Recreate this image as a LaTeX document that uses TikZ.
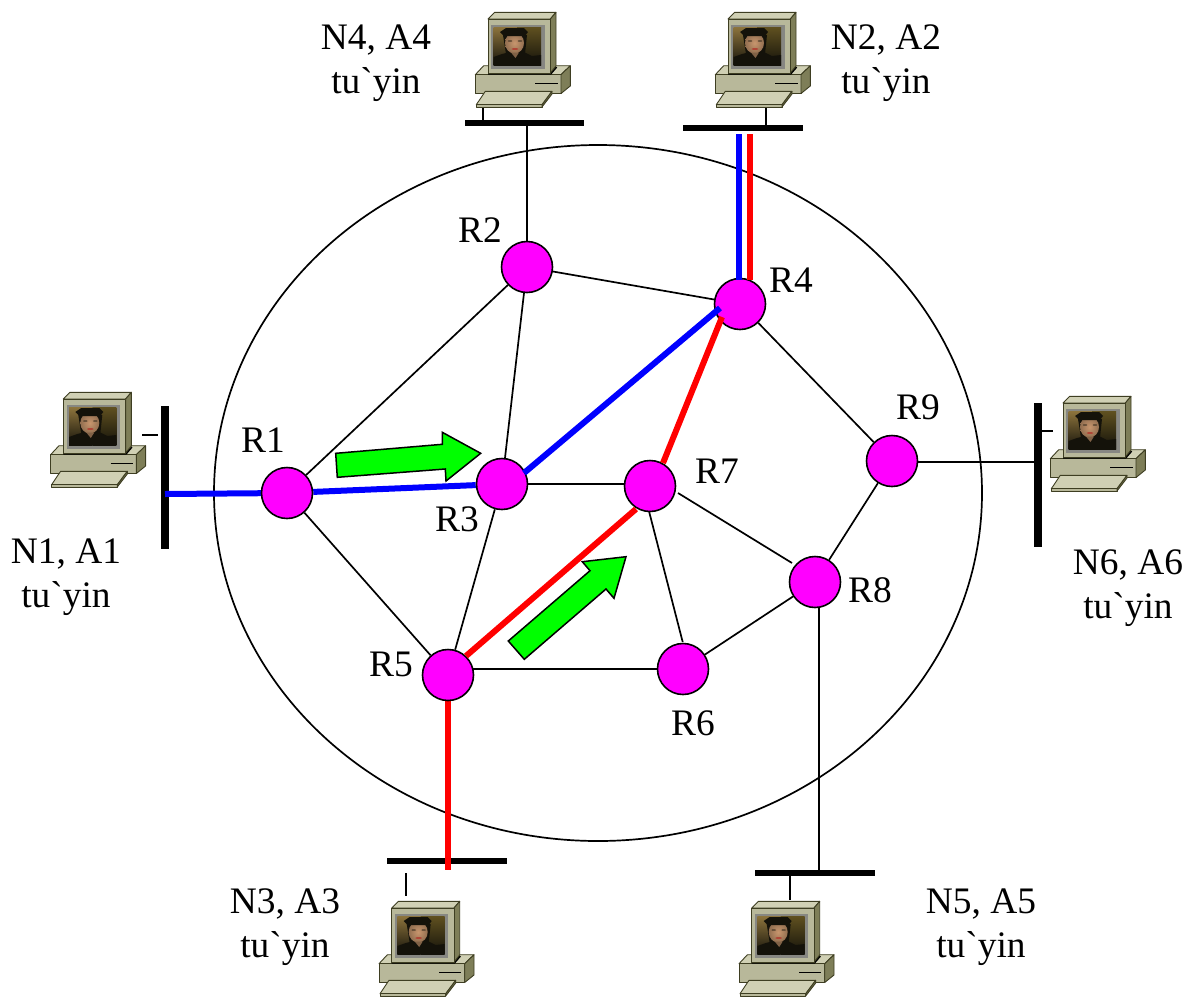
\documentclass[tikz,border=0pt]{standalone}
\usepackage{fontspec}
\usetikzlibrary{shapes.geometric,backgrounds}
\newfontfamily\plainserif{Liberation Serif}
\definecolor{linkblue}{RGB}{0,0,255}
\definecolor{linkred}{RGB}{255,0,0}
\definecolor{router}{RGB}{255,0,255}
\definecolor{arrowgreen}{RGB}{0,255,0}
\definecolor{pcedge}{RGB}{62,62,34}
\definecolor{pcfront}{RGB}{184,184,154}
\definecolor{pctop}{RGB}{208,208,180}
\definecolor{pcside}{RGB}{126,126,88}
\definecolor{pcbezel}{RGB}{135,135,130}
\definecolor{phototan}{RGB}{140,115,60}
\definecolor{photoolive}{RGB}{95,80,32}
\definecolor{photoskin}{RGB}{200,150,110}
\definecolor{photolip}{RGB}{175,70,55}
\definecolor{photodark}{RGB}{20,18,10}
\tikzset{
  x=1pt,y=-1pt,
  routernode/.style={circle,draw=black,line width=1.6pt,fill=router,minimum size=51pt,inner sep=0pt},
  thinlink/.style={draw=black,line width=1.7pt},
  bluelink/.style={draw=linkblue,line width=6pt},
  redlink/.style={draw=linkred,line width=6pt},
  busbar/.style={draw=black,line width=6pt},
  vbusbar/.style={draw=black,line width=8pt},
  greenarrow/.style={draw=black,line width=1.5pt,fill=arrowgreen,line join=miter},
  txt/.style={font=\plainserif\fontsize{37.4}{43.5}\selectfont,inner sep=0pt,align=center,text=black},
  pcpart/.style={draw=pcedge,line width=0.9pt,line join=round},
  pics/computer/.style={code={
    \filldraw[pcpart,fill=pctop] (-4.3,46.7)--(82.3,46.7)--(73,55.7)--(-12.7,55.7)--cycle;
    \filldraw[pcpart,fill=pcfront] (-12.7,55.7) rectangle (73,74.5);
    \filldraw[pcpart,fill=pcside] (73,55.7)--(82.3,46.7)--(82.3,67)--(73,74.5)--cycle;
    \draw[black,line width=1.2pt] (47.3,64.7)--(69.7,64.7);
    \filldraw[pcpart,fill=pctop] (-11.7,85.7)--(-2.7,72.3)--(64,72.3)--(54,85.7)--cycle;
    \filldraw[pcpart,fill=pcfront] (-11.7,85.7)--(54,85.7)--(54,88)--(-11.7,88)--cycle;
    \filldraw[pcpart,fill=pcside] (54,85.7)--(64,72.3)--(64,75)--(54,88)--cycle;
    \draw[black,line width=1.8pt] (0,54.8)--(62.6,54.8)--(68.5,48);
    \filldraw[pcpart,fill=pctop] (0,0)--(6.7,-6.7)--(68,-6.7)--(62.3,0)--cycle;
    \filldraw[pcpart,fill=pcside] (62.3,0)--(68,-6.7)--(68,47)--(62.3,54)--cycle;
    \filldraw[pcpart,fill=pcfront] (0,0) rectangle (62.3,54);
    \fill[pcbezel] (3.3,5.7) rectangle (56.7,49.7);
    \begin{scope}
      \clip (5.7,8.3) rectangle (53,46.3);
      \shade[top color=phototan,bottom color=photodark] (5.7,8.3) rectangle (29,46.3);
      \shade[top color=photoolive,bottom color=photodark] (29,8.3) rectangle (53,46.3);
      \fill[photodark] (5.7,38)--(14,35)--(22,33)--(36,33)--(44,37)--(53,36)--(53,46.3)--(5.7,46.3)--cycle;
      \fill[photodark] (18,35)--(15,16)--(39,16)--(37,35)--cycle;
      \shade[inner color=photoskin,outer color=photoskin!70!photodark] (26.5,24) ellipse (9.5 and 10.5);
      \fill[photodark] (12,13)--(18,9)--(36,9)--(40,13)--(37,17)--(16,17)--cycle;
      \fill[photolip] (27,30) ellipse (3.4 and 1);
      \fill[photodark!70!photoskin] (22,22) ellipse (2.3 and 0.7);
      \fill[photodark!70!photoskin] (32,22) ellipse (2.3 and 0.7);
      \fill[photoskin!60!photodark] (23,33.5)--(31,33.5)--(27.5,39)--cycle;
    \end{scope}
  }}
}
\begin{document}
\begin{tikzpicture}
\useasboundingbox (0,0) rectangle (1195,997);
% routers
\node[routernode] (R1) at (287,493) {};
\node[routernode] (R2) at (527,267) {};
\node[routernode] (R3) at (502,484) {};
\node[routernode] (R4) at (740,304) {};
\node[routernode] (R5) at (448,675) {};
\node[routernode] (R6) at (683,669) {};
\node[routernode] (R7) at (650,486) {};
\node[routernode] (R8) at (815,582) {};
\node[routernode] (R9) at (892,461) {};
% free ends
\coordinate (barN4a) at (465,123); \coordinate (barN4b) at (584,123); \coordinate (dropN4) at (527,123);
\coordinate (barN2a) at (683,128); \coordinate (barN2b) at (803,128);
\coordinate (barN1a) at (165,406); \coordinate (barN1b) at (165,549); \coordinate (dropN1) at (165,494);
\coordinate (barN6a) at (1038,403); \coordinate (barN6b) at (1038,547); \coordinate (dropN6) at (1038,462);
\coordinate (barN3a) at (387,861); \coordinate (barN3b) at (507,861); \coordinate (dropN3) at (448,870);
\coordinate (barN5a) at (755,873); \coordinate (barN5b) at (875,873); \coordinate (dropN5) at (819,873);
\coordinate (blueN2) at (739,134); \coordinate (redN2) at (749.7,134);
\coordinate (blueR4) at (739,280); \coordinate (redR4) at (749.7,280);
\coordinate (topR8) at (819,582);
% off-centre link ends on the routers
\coordinate (R3east) at (527,484); \coordinate (R7west) at (624,484);
\coordinate (R5east) at (472,669); \coordinate (R6west) at (660,669);
\coordinate (R7south) at (648.7,510); \coordinate (R6north) at (682.7,642);
\coordinate (R9east) at (916,462);
\coordinate (R4blue) at (720,308); \coordinate (R3blue) at (524,473);
\coordinate (R4red) at (722,317); \coordinate (R7red) at (663,463);
\coordinate (R7sw) at (636,509); \coordinate (R5ne) at (466,656);
\coordinate (R7se) at (678,493); \coordinate (R8nw) at (792,563);
\begin{scope}[on background layer]
  \node[ellipse,draw=black,line width=1.7pt,minimum width=768pt,minimum height=696pt,inner sep=0pt] (cloud) at (598,493) {};
  \draw[thinlink] (R2)--(R1) (R2)--(R3) (R2)--(R4) (R1)--(R5) (R3)--(R5) (R3east)--(R7west)
    (R7south)--(R6north) (R7se)--(R8nw) (R5east)--(R6west) (R6)--(R8) (R8)--(R9) (R4)--(R9)
    (R9east)--(dropN6) (R2.center)--(dropN4) (topR8)--(dropN5);
  \draw[busbar] (barN4a)--(barN4b);
  \draw[busbar] (barN2a)--(barN2b);
  \draw[busbar] (barN3a)--(barN3b);
  \draw[busbar] (barN5a)--(barN5b);
  \draw[vbusbar] (barN1a)--(barN1b);
  \draw[vbusbar] (barN6a)--(barN6b);
  \draw[bluelink] (dropN1)--(R1.center);
  \draw[bluelink] (R1)--(R3);
  \draw[redlink] (R5.center)--(dropN3);
\end{scope}
% coloured links that lie over the routers' rims
\draw[bluelink] (R4blue)--(R3blue);
\draw[redlink] (R4red)--(R7red);
\draw[redlink] (R7sw)--(R5ne);
\draw[bluelink] (blueN2)--(blueR4);
\draw[redlink] (redN2)--(redR4);
% stubs
\coordinate (s4a) at (483,108); \coordinate (s4b) at (483,120);
\coordinate (s2a) at (766,108); \coordinate (s2b) at (766,126);
\coordinate (s1a) at (142,435); \coordinate (s1b) at (158,435);
\coordinate (s6a) at (1042,431); \coordinate (s6b) at (1053,431);
\coordinate (s3a) at (406,873); \coordinate (s3b) at (406,896);
\coordinate (s5a) at (790,875); \coordinate (s5b) at (790,900);
\draw[thinlink] (s4a)--(s4b) (s2a)--(s2b) (s1a)--(s1b) (s6a)--(s6b) (s3a)--(s3b) (s5a)--(s5b);
% computers
\path (488,19) pic {computer};
\path (728,19) pic {computer};
\path (63.3,399) pic {computer};
\path (1063,403) pic {computer};
\path (391.7,908) pic {computer};
\path (751.7,908) pic {computer};
% green arrows
\path[greenarrow] (335.7,453.3)--(442.3,444.3)--(442.3,432.3)--(480.7,453.3)--(446,481)--(445.3,469)--(337.3,477.3)--cycle;
\path[greenarrow] (508.3,641)--(590,570.7)--(582.3,561.7)--(626,556.7)--(614,598.3)--(606,589)--(524.3,659.3)--cycle;
% labels
\node[txt] (lR1) at (263,440) {R1};
\node[txt] (lR2) at (480,230) {R2};
\node[txt] (lR3) at (457,519) {R3};
\node[txt] (lR4) at (791,280) {R4};
\node[txt] (lR5) at (391,664) {R5};
\node[txt] (lR6) at (693,723) {R6};
\node[txt] (lR7) at (717,471) {R7};
\node[txt] (lR8) at (870,590) {R8};
\node[txt] (lR9) at (918,407) {R9};
\node[txt] (lN4) at (376,63) {N4, A4\\tu`yin};
\node[txt] (lN2) at (886,63) {N2, A2\\tu`yin};
\node[txt] (lN1) at (66,577) {N1, A1\\tu`yin};
\node[txt] (lN6) at (1128,588) {N6, A6\\tu`yin};
\node[txt] (lN3) at (285,927) {N3, A3\\tu`yin};
\node[txt] (lN5) at (981,927) {N5, A5\\tu`yin};
\end{tikzpicture}
\end{document}
